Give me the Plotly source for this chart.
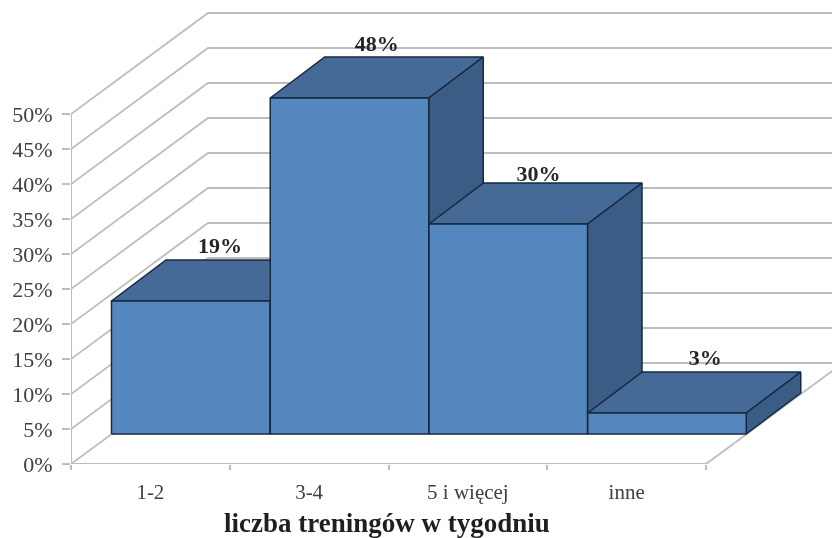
import plotly.graph_objects as go

categories = ["1-2", "3-4", "5 i więcej", "inne"]
values = [19, 48, 30, 3]
labels = ["19%", "48%", "30%", "3%"]
y_ticks = [0, 5, 10, 15, 20, 25, 30, 35, 40, 45, 50]
y_tick_labels = [f"{v}%" for v in y_ticks]
x_title = "liczba treningów w tygodniu"

# Oblique projection, in axis units (1 category = 158.75 px, 1% = 7 px)
PX_X = 158.75
PX_Y = 7.0
WALL_DX, WALL_DY = 137 / PX_X, 101 / PX_Y
BAR_X0, BAR_DY0 = 40.5 / PX_X, 30 / PX_Y
BAR_W = 158.5 / PX_X
DEPTH_DX, DEPTH_DY = 54.5 / PX_X, 41 / PX_Y
# Fine placement of the data labels, in px (right, down)
LABEL_NUDGE_X = [2, 0, 3, 11]
LABEL_NUDGE_Y = [1, 2, 6, 1]

GRID = "#bdbdbd"
TEXT = "#404040"
EDGE = "#16283f"
FRONT = "#5587bf"
TOP = "#466a98"
SIDE = "#3b5c84"
FONT = "Liberation Serif"

fig = go.Figure()


def line(xs, ys, width=1.8, color=GRID):
    fig.add_trace(go.Scatter(x=xs, y=ys, mode="lines", cliponaxis=False,
                             line=dict(color=color, width=width),
                             hoverinfo="skip", showlegend=False))


def poly(xs, ys, fill):
    fig.add_trace(go.Scatter(x=xs + xs[:1], y=ys + ys[:1], mode="lines", fill="toself",
                             fillcolor=fill, line=dict(color=EDGE, width=1.5),
                             hoverinfo="skip", showlegend=False))


n = len(categories)
for v in y_ticks:
    line([0, WALL_DX, n + WALL_DX], [v, v + WALL_DY, v + WALL_DY])
line([0, 0], [y_ticks[0], y_ticks[-1]], width=2)
line([0, n], [0, 0], width=2)
line([n, n + WALL_DX], [0, WALL_DY])

for i, v in enumerate(values):
    x0 = i + BAR_X0
    x1 = x0 + BAR_W
    b = BAR_DY0
    t = BAR_DY0 + v
    poly([x0, x1, x1 + DEPTH_DX, x0 + DEPTH_DX], [t, t, t + DEPTH_DY, t + DEPTH_DY], TOP)
    poly([x1, x1 + DEPTH_DX, x1 + DEPTH_DX, x1], [b, b + DEPTH_DY, t + DEPTH_DY, t], SIDE)
    poly([x0, x1, x1, x0], [b, b, t, t], FRONT)

fig.add_trace(go.Scatter(
    x=[i + BAR_X0 + (BAR_W + DEPTH_DX) / 2 + LABEL_NUDGE_X[i] / PX_X for i in range(n)],
    y=[BAR_DY0 + v + DEPTH_DY + 2 - LABEL_NUDGE_Y[i] / PX_Y for i, v in enumerate(values)],
    mode="text", text=[f"<b>{s}</b>" for s in labels], cliponaxis=False,
    textfont=dict(family=FONT, size=22, color="#262626"),
    hoverinfo="skip", showlegend=False))

fig.update_layout(
    width=832, height=538,
    margin=dict(l=71, r=0, t=0, b=74),
    paper_bgcolor="white", plot_bgcolor="white",
    showlegend=False,
    font=dict(family=FONT, color=TEXT),
    xaxis=dict(range=[0, 761 / PX_X], showgrid=False, zeroline=False, showline=False,
               tickmode="array", tickvals=[i + 0.5 for i in range(n)], ticktext=categories,
               ticks="outside", ticklen=9, tickcolor="rgba(0,0,0,0)",
               tickfont=dict(family=FONT, size=21, color=TEXT),
               minor=dict(tickmode="array", tickvals=list(range(n + 1)), ticks="outside",
                          ticklen=5, tickcolor=GRID, tickwidth=1.5, showgrid=False)),
    yaxis=dict(range=[0, 464 / PX_Y], showgrid=False, zeroline=False, showline=False,
               tickmode="array", tickvals=y_ticks, ticktext=y_tick_labels,
               ticks="outside", ticklen=8, tickcolor=GRID, tickwidth=2, ticklabelstandoff=5,
               tickfont=dict(family=FONT, size=22, color=TEXT)),
    annotations=[
        dict(text=f"<b>{x_title}</b>", xref="paper", yref="paper",
             x=(387 - 71) / 761, y=-59 / 464, xanchor="center", yanchor="middle",
             showarrow=False, font=dict(family=FONT, size=27, color="#1f1f1f"))],
)

fig.write_html("out.html", config=dict(displayModeBar=False),
               post_script="document.body.style.margin='0';document.body.style.filter='blur(0.6px)';")
